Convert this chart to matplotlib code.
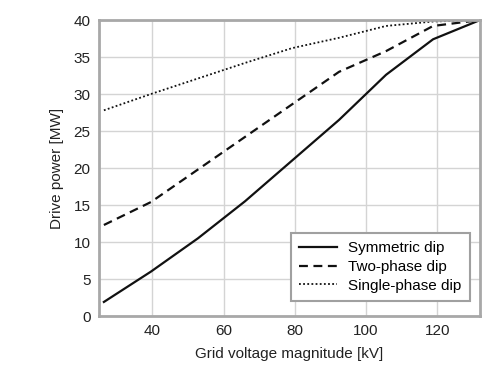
import matplotlib
matplotlib.use("Agg")
import matplotlib.pyplot as plt

plt.rcParams['font.family'] = ['Liberation Sans', 'DejaVu Sans']

voltage = [26.4, 39.6, 52.8, 66.0, 79.2, 92.4, 105.6, 118.8, 132.0]
symmetric = [1.9, 6.0, 10.5, 15.5, 21.0, 26.5, 32.6, 37.4, 40.0]
two_phase = [12.3, 15.4, 19.8, 24.2, 28.6, 33.0, 35.8, 39.2, 40.0]
single_phase = [27.8, 30.0, 32.1, 34.2, 36.2, 37.6, 39.2, 39.8, 40.0]

xticks = [40, 60, 80, 100, 120]
yticks = [0, 5, 10, 15, 20, 25, 30, 35, 40]

fig = plt.figure(figsize=(4.97, 3.78), dpi=100)
ax = fig.add_axes([0.199, 0.164, 0.767, 0.783])

ax.plot(voltage, symmetric, color='#111111', lw=1.6, ls='-', label='Symmetric dip')
ax.plot(voltage, two_phase, color='#111111', lw=1.6, ls=(0, (4, 2.5)), label='Two-phase dip')
ax.plot(voltage, single_phase, color='#111111', lw=1.3, ls=(0, (1, 1.3)), label='Single-phase dip')

ax.set_xlim(25, 132)
ax.set_ylim(0, 40)
ax.set_xticks(xticks)
ax.set_yticks(yticks)
ax.grid(True, color='#d4d4d4', lw=1.0)
ax.set_axisbelow(True)
ax.tick_params(length=0, labelsize=11, pad=6, colors='#222222')
for s in ax.spines.values():
    s.set_color('#a8a8a8')
    s.set_linewidth(2)

ax.set_xlabel('Grid voltage magnitude [kV]', fontsize=11, color='#222222', labelpad=6)
ax.set_ylabel('Drive power [MW]', fontsize=11, color='#222222', labelpad=7)

leg = ax.legend(loc='lower right', bbox_to_anchor=(0.993, 0.025), fontsize=11,
                fancybox=False, framealpha=1, edgecolor='#a0a0a0',
                handlelength=2.5, handletextpad=0.7, borderpad=0.55, labelspacing=0.3)
leg.get_frame().set_linewidth(1.5)

fig.savefig('out.png', dpi=100)
